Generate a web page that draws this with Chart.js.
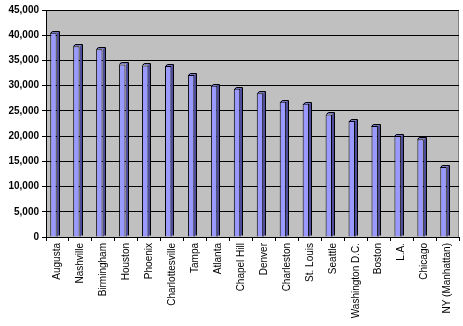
<!DOCTYPE html>
<html>
<head>
<meta charset="utf-8">
<script src="https://cdn.jsdelivr.net/npm/chart.js@4"></script>
<style>
    html, body { margin: 0; padding: 0; background: #fff; }
    #wrap { width: 463px; height: 326px; }
</style>
</head>
<body>
<div id="wrap"><canvas id="cityChart" width="463" height="326"></canvas></div>
<script>
// Chart data
const cities = ['Augusta', 'Nashville', 'Birmingham', 'Houston', 'Phoenix', 'Charlottesville',
    'Tampa', 'Atlanta', 'Chapel Hill', 'Denver', 'Charleston', 'St. Louis', 'Seattle',
    'Washington D.C.', 'Boston', 'L.A.', 'Chicago', 'NY (Manhattan)'];
const values = [40500, 37800, 37200, 34200, 34000, 33900, 32100, 30000, 29400,
    28500, 26800, 26400, 24300, 23000, 22000, 20000, 19400, 13900];
const yMax = 45000;
const yStep = 5000;

// grey plot area behind the bars
const plotBackground = {
    id: 'plotBackground',
    beforeDraw(chart) {
        const { ctx, chartArea: a } = chart;
        ctx.save();
        ctx.fillStyle = '#c0c0c0';
        ctx.fillRect(a.left, a.top, a.right - a.left, a.bottom - a.top);
        ctx.strokeStyle = '#808080';
        ctx.lineWidth = 1;
        ctx.strokeRect(a.left + 0.5, a.top + 0.5, a.right - a.left - 1, a.bottom - a.top);
        ctx.restore();
    },
};

// fake 3D look: shift columns a bit left and add side + cap
const columns3d = {
    id: 'columns3d',
    beforeDatasetsDraw(chart) {
        chart.ctx.save();
        chart.ctx.translate(-4, 0);
    },
    afterDatasetsDraw(chart) {
        const ctx = chart.ctx;
        const d = 2;
        chart.getDatasetMeta(0).data.forEach((bar) => {
            const left = Math.round(bar.x - bar.width / 2);
            const right = Math.round(bar.x + bar.width / 2);
            const top = Math.round(bar.y);
            const base = Math.round(bar.base);
            // side
            ctx.fillStyle = '#4d4d99';
            ctx.beginPath();
            ctx.moveTo(right, top);
            ctx.lineTo(right + d, top - d);
            ctx.lineTo(right + d, base - d);
            ctx.lineTo(right, base);
            ctx.closePath();
            ctx.fill();
            // cap
            ctx.fillStyle = '#7777bb';
            ctx.beginPath();
            ctx.moveTo(left, top);
            ctx.lineTo(left + d, top - d);
            ctx.lineTo(right + d, top - d);
            ctx.lineTo(right, top);
            ctx.closePath();
            ctx.fill();
            ctx.strokeStyle = '#000';
            ctx.lineWidth = 1;
            ctx.beginPath();
            ctx.moveTo(left + 0.5, top + 0.5);
            ctx.lineTo(left + d + 0.5, top - d + 0.5);
            ctx.lineTo(right + d + 0.5, top - d + 0.5);
            ctx.lineTo(right + d + 0.5, base - d + 0.5);
            ctx.stroke();
        });
        ctx.restore();
    },
};

const ctx = document.getElementById('cityChart').getContext('2d');
new Chart(ctx, {
    type: 'bar',
    data: {
        labels: cities,
        datasets: [{
            data: values,
            backgroundColor: '#9999ff',
            borderColor: '#000',
            borderWidth: 1,
            barPercentage: 0.28,
            categoryPercentage: 1,
        }],
    },
    options: {
        responsive: false,
        animation: false,
        layout: { padding: { top: 10, right: 4, left: 0, bottom: 0 } },
        plugins: {
            legend: { display: false },
            tooltip: { enabled: false },
        },
        scales: {
            x: {
                afterFit: (scale) => { scale.height = 89; },
                grid: {
                    offset: true,
                    drawOnChartArea: false,
                    color: '#000',
                    tickLength: 4,
                },
                border: { color: '#000' },
                ticks: {
                    autoSkip: false,
                    maxRotation: 90,
                    minRotation: 90,
                    padding: 2,
                    color: '#000',
                    font: { family: 'Liberation Sans', size: 10 },
                },
            },
            y: {
                min: 0,
                max: yMax,
                afterFit: (scale) => { scale.width = 46; },
                grid: {
                    color: '#000',
                    tickLength: 4,
                },
                border: { color: '#000' },
                ticks: {
                    stepSize: yStep,
                    padding: 3,
                    color: '#000',
                    font: { family: 'Liberation Sans', size: 10, weight: 'bold' },
                    callback: (v) => v.toLocaleString('en-US'),
                },
            },
        },
    },
    plugins: [plotBackground, columns3d],
});
</script>
</body>
</html>
